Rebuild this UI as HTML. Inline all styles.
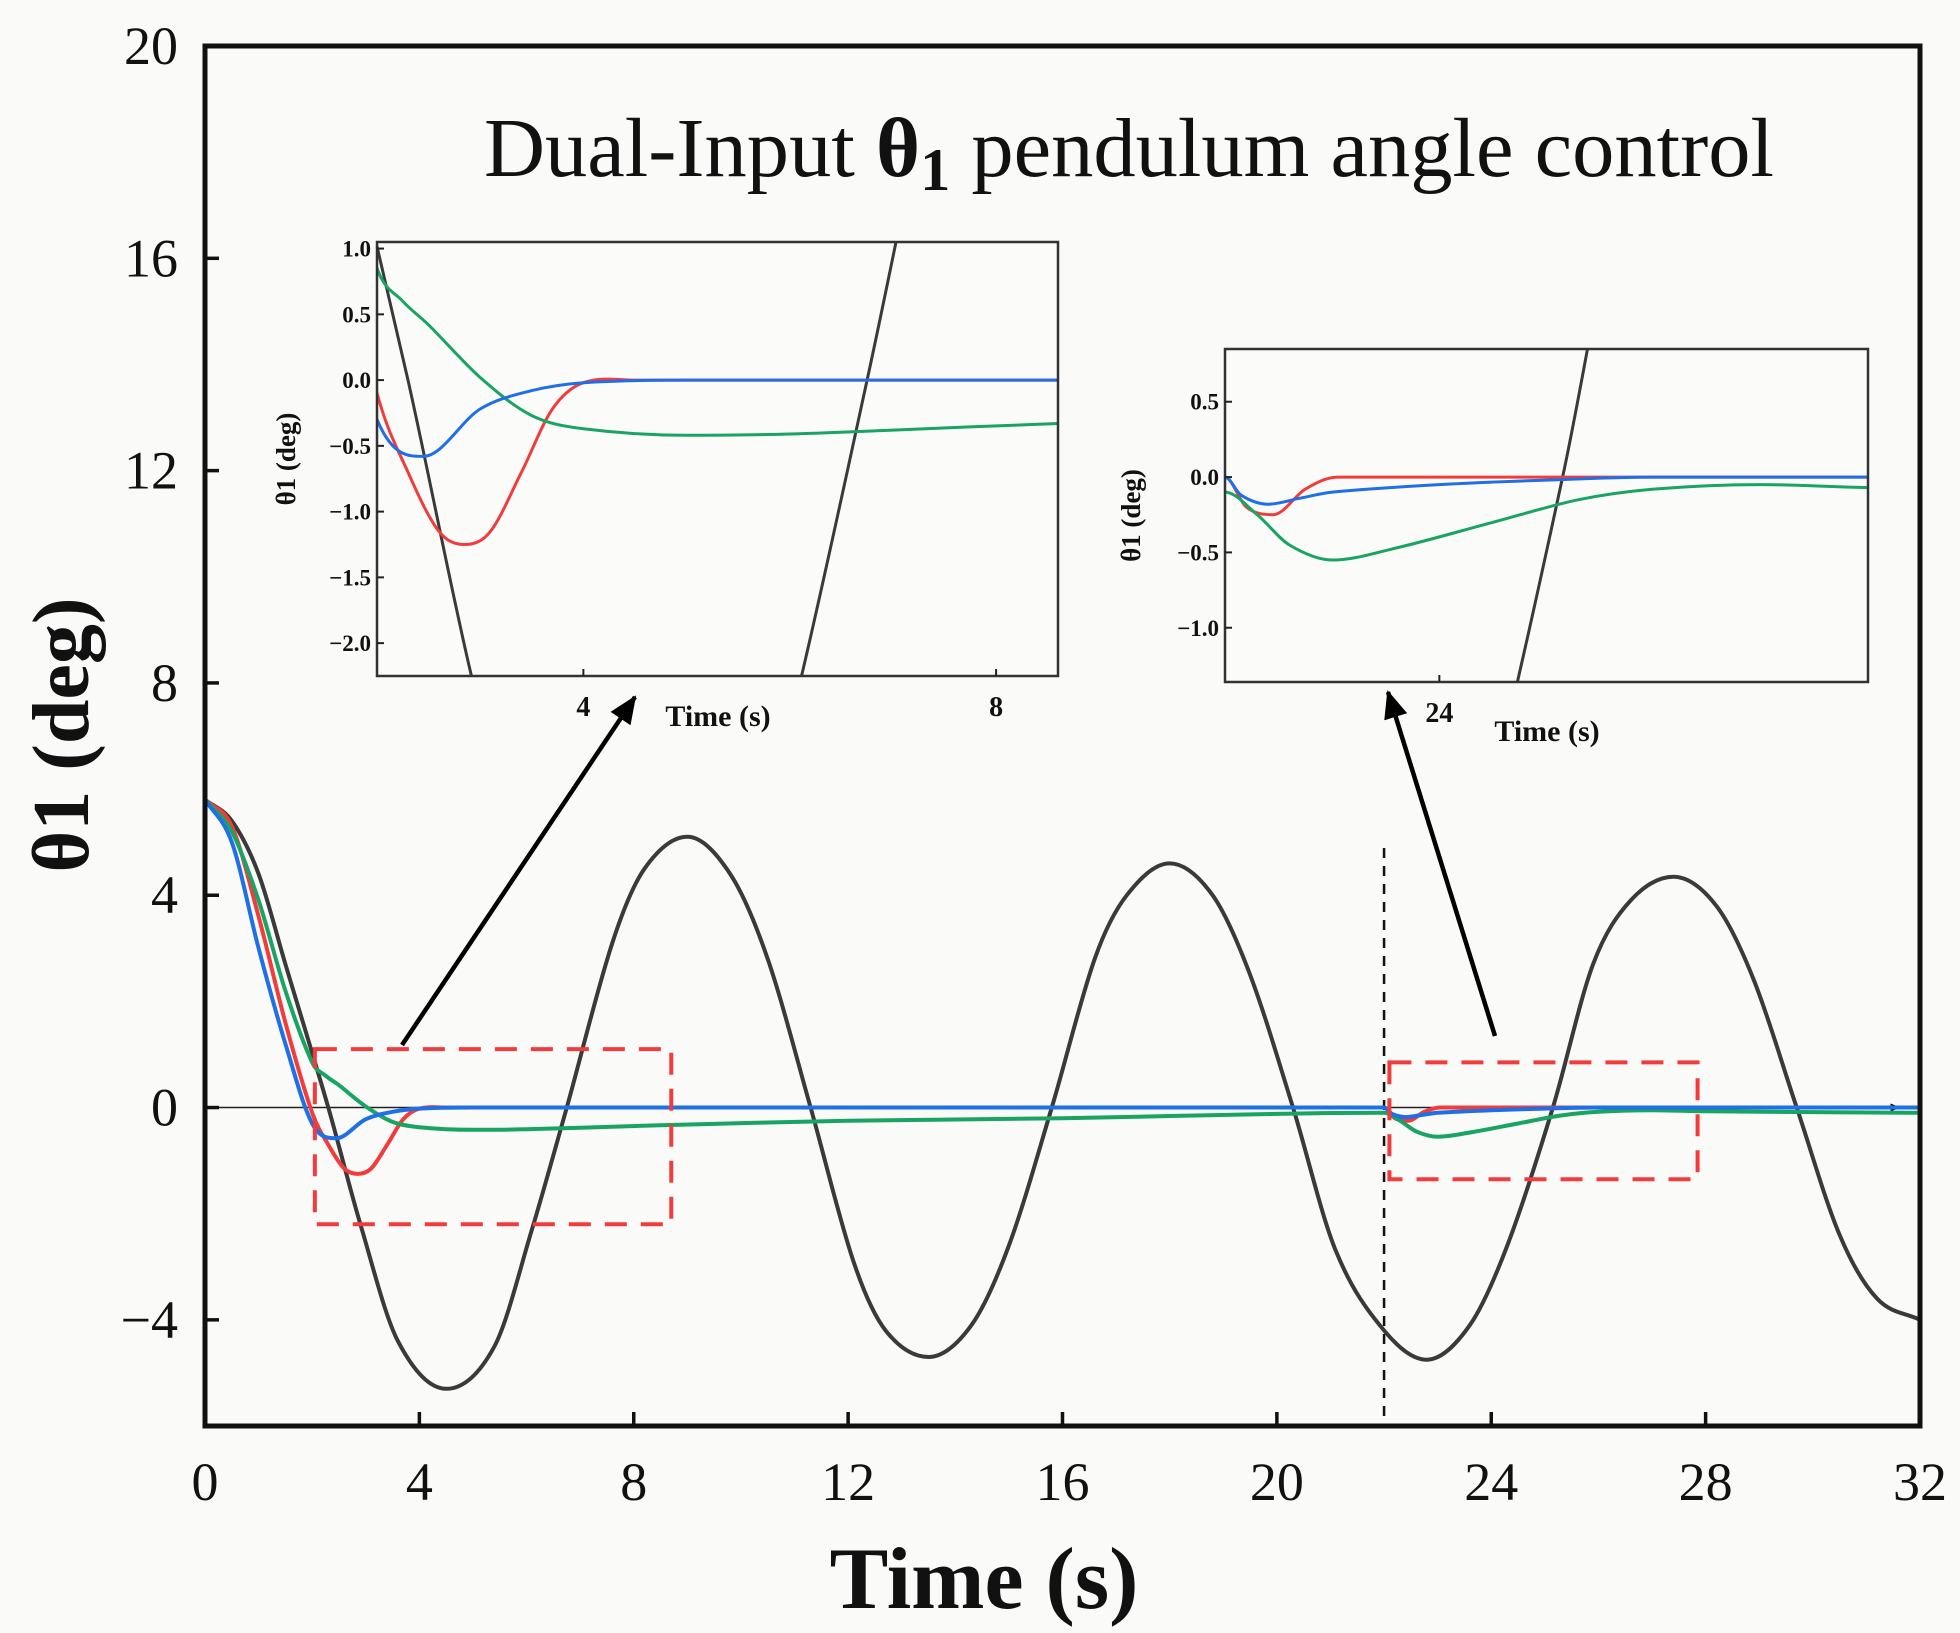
<!DOCTYPE html>
<html><head><meta charset="utf-8"><style>
html,body{margin:0;padding:0;background:#fafaf8;}
svg{display:block;font-family:"Liberation Serif",serif;}
</style></head><body>
<svg id="chart" width="1960" height="1633" viewBox="0 0 1960 1633" xmlns="http://www.w3.org/2000/svg">
<rect x="0" y="0" width="1960" height="1633" fill="#fafaf8"/>
<g id="main"></g>
<g id="inset1"></g>
<g id="inset2"></g>
<text x="484" y="176" font-size="84" textLength="1290" lengthAdjust="spacingAndGlyphs" fill="#111">Dual-Input <tspan font-weight="bold">θ</tspan><tspan font-weight="bold" font-size="60" dy="14">1</tspan><tspan dy="-14"> pendulum angle control</tspan></text>
<text x="984" y="1608" font-size="88" font-weight="bold" text-anchor="middle" fill="#111">Time (s)</text>
<text transform="translate(88,735) rotate(-90)" font-size="80" font-weight="bold" text-anchor="middle" fill="#111">θ1 (deg)</text>
</svg>
<script>
const blackT=[0,0.5,1,1.5,2.3,2.9,3.6,4.5,5.4,6.1,6.75,7.6,8.2,9,9.8,10.5,11.3,12.1,12.7,13.5,14.3,15,15.8,16.6,17.2,18,18.8,19.5,20.3,21.1,22,22.8,23.6,24.3,25.15,25.9,26.6,27.4,28.2,28.9,29.7,30.5,31.2,32];
const blackV=[5.8,5.4,4.4,2.7,0,-2.2,-4.4,-5.3,-4.5,-2.3,0,3.1,4.5,5.1,4.4,2.8,0,-2.9,-4.2,-4.7,-4.1,-2.6,0,2.8,4.0,4.6,4.0,2.5,0,-2.7,-4.2,-4.75,-4.1,-2.6,0,2.7,3.9,4.35,3.8,2.4,0,-2.4,-3.6,-4.0];
const redT=[0,0.5,1,1.5,2,2.3,2.6,2.85,3.1,3.4,3.7,4,4.5,8,12,16,20,22,22.2,22.45,22.75,23.05,24,28,32];
const redV=[5.8,5.3,3.6,1.6,-0.1,-0.7,-1.15,-1.25,-1.15,-0.7,-0.22,-0.02,0,0,0,0,0,0,-0.2,-0.25,-0.08,0,0,0,0];
const blueT=[0,0.5,1,1.5,2,2.45,3,3.5,4,5,8,12,16,20,22,22.15,22.4,22.7,23,24,25,26,28,32];
const blueV=[5.8,5.0,3.0,1.2,-0.3,-0.58,-0.22,-0.08,-0.02,0,0,0,0,0,0,-0.12,-0.18,-0.14,-0.1,-0.05,-0.02,0,0,0];
const greenT=[0,0.5,1,1.5,2,2.25,2.5,3,3.5,4,5,6,7,8.6,12,16,20,22,22.3,22.6,23,23.6,24.5,25.3,26,27,28,32];
const greenV=[5.8,5.2,3.9,2.2,0.85,0.6,0.42,0.02,-0.27,-0.37,-0.42,-0.41,-0.38,-0.33,-0.25,-0.2,-0.12,-0.1,-0.25,-0.45,-0.55,-0.47,-0.3,-0.15,-0.08,-0.05,-0.07,-0.1];
const mainXTicks=[0,4,8,12,16,20,24,28,32];
const mainYTicks=[-4,0,4,8,12,16,20];
const in1XTicks=[4,8];
const in1YTicks=[1.0,0.5,0.0,-0.5,-1.0,-1.5,-2.0];
const in2XTicks=[24];
const in2YTicks=[0.5,0.0,-0.5,-1.0];
const seriesColors={black:"#3a3a3a",red:"#f23c3c",blue:"#1f6fe6",green:"#19a463"};
const NS="http://www.w3.org/2000/svg";
function mk(tag,attrs,parent){const e=document.createElementNS(NS,tag);for(const k in attrs)e.setAttribute(k,attrs[k]);parent.appendChild(e);return e;}
function scale(d0,d1,r0,r1){return v=>r0+(v-d0)/(d1-d0)*(r1-r0);}
function smoothPath(ts,vs,sx,sy){
  const n=ts.length,m=[];
  for(let i=0;i<n;i++){
    if(i===0)m.push((vs[1]-vs[0])/(ts[1]-ts[0]));
    else if(i===n-1)m.push((vs[n-1]-vs[n-2])/(ts[n-1]-ts[n-2]));
    else{
      const d0=(vs[i]-vs[i-1])/(ts[i]-ts[i-1]),d1=(vs[i+1]-vs[i])/(ts[i+1]-ts[i]);
      m.push(d0*d1<=0?0:(vs[i+1]-vs[i-1])/(ts[i+1]-ts[i-1]));
    }
  }
  let d="M"+sx(ts[0]).toFixed(1)+","+sy(vs[0]).toFixed(1);
  for(let i=0;i<n-1;i++){
    const h=ts[i+1]-ts[i];
    d+="C"+sx(ts[i]+h/3).toFixed(1)+","+sy(vs[i]+m[i]*h/3).toFixed(1)+" "+sx(ts[i+1]-h/3).toFixed(1)+","+sy(vs[i+1]-m[i+1]*h/3).toFixed(1)+" "+sx(ts[i+1]).toFixed(1)+","+sy(vs[i+1]).toFixed(1);
  }
  return d;
}
const allSeries=[["black",blackT,blackV],["red",redT,redV],["green",greenT,greenV],["blue",blueT,blueV]];
function drawSeries(g,sx,sy,clipId,w){
  const sg=mk("g",{"clip-path":"url(#"+clipId+")"},g);
  allSeries.forEach(s=>{
    const p=mk("path",{d:smoothPath(s[1],s[2],sx,sy),fill:"none",stroke:seriesColors[s[0]],"stroke-width":w,"stroke-linejoin":"round"},sg);
    
    
  });
}
const svg=document.getElementById("chart");
const defs=mk("defs",{},svg);
function clip(id,x,y,w,h){const c=mk("clipPath",{id:id},defs);mk("rect",{x:x,y:y,width:w,height:h},c);}
const am=mk("marker",{id:"ah",markerWidth:"10",markerHeight:"10",refX:"8",refY:"5",orient:"auto",markerUnits:"userSpaceOnUse",viewBox:"0 0 10 10"},defs);
mk("path",{d:"M0,1 L10,5 L0,9 Z",fill:"#000"},am);
const am2=mk("marker",{id:"ah2",markerWidth:"28",markerHeight:"28",refX:"26",refY:"14",orient:"auto",markerUnits:"userSpaceOnUse",viewBox:"0 0 28 28"},defs);
mk("path",{d:"M0,2 L28,14 L0,26 Z",fill:"#000"},am2);

// MAIN
const M={l:205,r:1920,t:46,b:1426};
const mx=scale(0,32,M.l,M.r), my=scale(-6,20,M.b,M.t);
const g=document.getElementById("main");
clip("cm",M.l,M.t,M.r-M.l,M.b-M.t);
const zl=mk("line",{x1:M.l,x2:mx(31.6),y1:my(0),y2:my(0),stroke:"#222","stroke-width":1.5,"marker-end":"url(#ah)"},g);


const vl=mk("line",{x1:mx(22),x2:mx(22),y1:848,y2:M.b,stroke:"#111","stroke-width":2.5,"stroke-dasharray":"10,8"},g);


drawSeries(g,mx,my,"cm",4);
[[2.05,8.7,1.1,-2.2],[22.1,27.85,0.85,-1.35]].forEach((b,i)=>{
  const r=mk("rect",{x:mx(b[0]),y:my(b[2]),width:mx(b[1])-mx(b[0]),height:my(b[3])-my(b[2]),fill:"none",stroke:"#f23c3c","stroke-width":4,"stroke-dasharray":"22,14"},g);
  
  
});
const a1=mk("line",{x1:402,y1:1045,x2:635,y2:697,stroke:"#000","stroke-width":4.5,"marker-end":"url(#ah2)"},g);


const a2=mk("line",{x1:1495,y1:1036,x2:1388,y2:692,stroke:"#000","stroke-width":4.5,"marker-end":"url(#ah2)"},g);


const fr=mk("rect",{x:M.l,y:M.t,width:M.r-M.l,height:M.b-M.t,fill:"none",stroke:"#111","stroke-width":5},g);


mainXTicks.forEach(v=>{
  mk("line",{x1:mx(v),x2:mx(v),y1:M.b,y2:M.b-14,stroke:"#111","stroke-width":3.5},g);
  const t=mk("text",{x:mx(v),y:1500,"font-size":54,"text-anchor":"middle",fill:"#111"},g);
  t.textContent=v;
  
  
});
mainYTicks.forEach(v=>{
  mk("line",{x1:M.l,x2:M.l+14,y1:my(v),y2:my(v),stroke:"#111","stroke-width":3.5},g);
  const t=mk("text",{x:178,y:my(v)+18,"font-size":54,"text-anchor":"end",fill:"#111"},g);
  t.textContent=(v<0?"\u2212"+(-v):v);
  
  
});

// INSETS
function inset(id,box,xd,yd,xt,yt,ylabelX,xlabel){
  const gi=document.getElementById(id);
  const sx=scale(xd[0],xd[1],box.l,box.r), sy=scale(yd[0],yd[1],box.b,box.t);
  const bg=mk("rect",{x:box.l,y:box.t,width:box.r-box.l,height:box.b-box.t,fill:"#fbfbf9"},gi);
  
  
  clip("c"+id,box.l,box.t,box.r-box.l,box.b-box.t);
  drawSeries(gi,sx,sy,"c"+id,3);
  const f=mk("rect",{x:box.l,y:box.t,width:box.r-box.l,height:box.b-box.t,fill:"none",stroke:"#333","stroke-width":2.5},gi);
  
  
  xt.forEach(v=>{
    mk("line",{x1:sx(v),x2:sx(v),y1:box.b,y2:box.b-7,stroke:"#222","stroke-width":2},gi);
    const t=mk("text",{x:sx(v),y:box.b+40,"font-size":28,"font-weight":"bold","text-anchor":"middle",fill:"#111"},gi);
    t.textContent=v;
    
    
  });
  yt.forEach(v=>{
    mk("line",{x1:box.l,x2:box.l+7,y1:sy(v),y2:sy(v),stroke:"#222","stroke-width":2},gi);
    const t=mk("text",{x:box.l-6,y:sy(v)+8,"font-size":23,"font-weight":"bold","text-anchor":"end",fill:"#111"},gi);
    t.textContent=(v<0?"\u2212":"")+Math.abs(v).toFixed(1);
    
    
  });
  const yl=mk("text",{transform:"translate("+ylabelX+","+((box.t+box.b)/2)+") rotate(-90)","font-size":27,"font-weight":"bold","text-anchor":"middle",fill:"#111"},gi);
  yl.textContent="θ1 (deg)";
  
  
  const xl=mk("text",{x:xlabel[0],y:xlabel[1],"font-size":30,"font-weight":"bold","text-anchor":"middle",fill:"#111"},gi);
  xl.textContent="Time (s)";
  
  
}
inset("inset1",{l:377,r:1058,t:242,b:676},[2.0,8.6],[-2.25,1.05],in1XTicks,in1YTicks,295,[718,726]);
inset("inset2",{l:1225,r:1868,t:349,b:682},[22,28],[-1.36,0.85],in2XTicks,in2YTicks,1140,[1547,741]);
</script>
</body></html>
